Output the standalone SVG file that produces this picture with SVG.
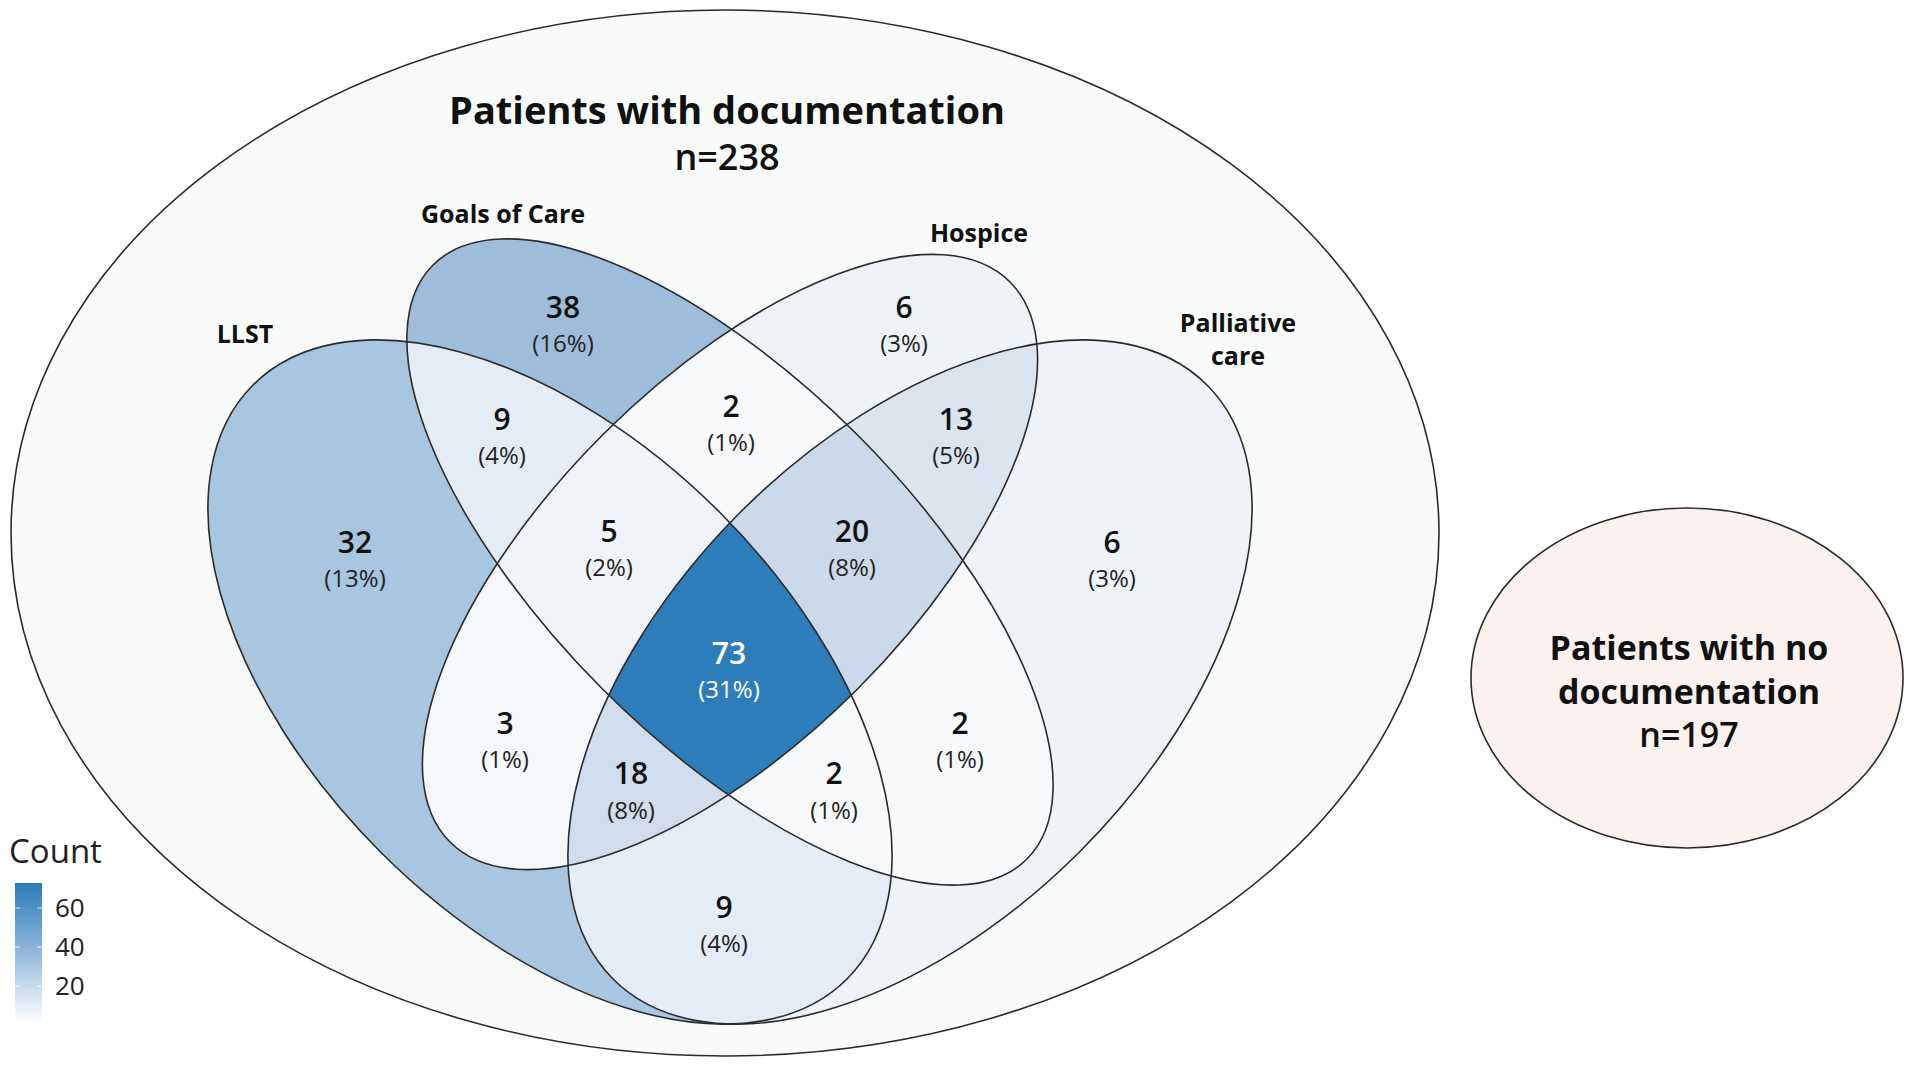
<svg xmlns="http://www.w3.org/2000/svg" width="1920" height="1079" viewBox="0 0 1920 1079">
<style>
.ol{fill:none;stroke:#2b2b2b;stroke-width:1.6}
.setlab{font-family:"Open Sans","Liberation Sans",sans-serif;font-weight:700;font-size:25px;fill:#111;text-anchor:middle}
.cnt{font-family:"Open Sans","Liberation Sans",sans-serif;font-weight:600;font-size:30px;fill:#111;text-anchor:middle}
.pct{font-family:"Open Sans","Liberation Sans",sans-serif;font-weight:400;font-size:24px;fill:#222;text-anchor:middle}
.wt{fill:#ffffff}
.big{font-family:"Open Sans","Liberation Sans",sans-serif;font-weight:700;font-size:38px;fill:#111;text-anchor:middle}
.bign{font-family:"Open Sans","Liberation Sans",sans-serif;font-weight:600;font-size:36px;fill:#111;text-anchor:middle}
.leg{font-family:"Open Sans","Liberation Sans",sans-serif;font-weight:500;fill:#222}
</style>
<defs>
<ellipse id="eA" cx="0" cy="0" rx="420" ry="240" transform="translate(550 682) rotate(45)"/>
<ellipse id="eB" cx="0" cy="0" rx="420" ry="180" transform="translate(730 562) rotate(45)"/>
<ellipse id="eC" cx="0" cy="0" rx="396" ry="180" transform="translate(730 562) rotate(-45)"/>
<ellipse id="eD" cx="0" cy="0" rx="420" ry="240" transform="translate(910 682) rotate(-45)"/>
<clipPath id="cA"><use href="#eA"/></clipPath>
<clipPath id="cB"><use href="#eB"/></clipPath>
<clipPath id="cC"><use href="#eC"/></clipPath>
<clipPath id="cD"><use href="#eD"/></clipPath>
<linearGradient id="legGrad" x1="0" y1="0" x2="0" y2="1">
<stop offset="0" stop-color="#2B7BBA"/>
<stop offset="0.5" stop-color="#93B9DB"/>
<stop offset="1" stop-color="#FFFFFF"/>
</linearGradient>
</defs>

<rect width="1920" height="1079" fill="#ffffff"/>

<g id="documented">
<ellipse cx="725" cy="533" rx="714" ry="523" fill="#F9FBFB" stroke="#2b2b2b" stroke-width="1.6"/>
<text class="big" x="727" y="124">Patients with documentation</text>
<text class="bign" x="727" y="170">n=238</text>
</g>

<g id="no-documentation">
<ellipse cx="1687" cy="678" rx="216" ry="170" fill="#FBF1EF" stroke="#2b2b2b" stroke-width="1.6"/>
<text class="big" x="1689" y="660" style="font-size:34px">Patients with no</text>
<text class="big" x="1689" y="704" style="font-size:34px">documentation</text>
<text class="bign" x="1689" y="747" style="font-size:34px">n=197</text>
</g>

<g id="region-fills">
<use href="#eA" fill="#A9C6E0"/>
<use href="#eB" fill="#9EBDDB"/>
<use href="#eC" fill="#EEF3F7"/>
<use href="#eD" fill="#EEF3F7"/>
<g clip-path="url(#cA)"><use href="#eB" fill="#E4ECF5"/></g>
<g clip-path="url(#cA)"><use href="#eC" fill="#F5F8FA"/></g>
<g clip-path="url(#cA)"><use href="#eD" fill="#E4ECF5"/></g>
<g clip-path="url(#cB)"><use href="#eC" fill="#F7F9FB"/></g>
<g clip-path="url(#cB)"><use href="#eD" fill="#F7F9FB"/></g>
<g clip-path="url(#cC)"><use href="#eD" fill="#DAE5F0"/></g>
<g clip-path="url(#cA)"><g clip-path="url(#cB)"><use href="#eC" fill="#F0F4F8"/></g></g>
<g clip-path="url(#cA)"><g clip-path="url(#cB)"><use href="#eD" fill="#F7F9FB"/></g></g>
<g clip-path="url(#cA)"><g clip-path="url(#cC)"><use href="#eD" fill="#CFDDEC"/></g></g>
<g clip-path="url(#cB)"><g clip-path="url(#cC)"><use href="#eD" fill="#CBDAEA"/></g></g>
<g clip-path="url(#cA)"><g clip-path="url(#cB)"><g clip-path="url(#cC)"><use href="#eD" fill="#2E7DBB"/></g></g></g>
</g>

<g id="set-llst">
<use href="#eA" class="ol"/>
<text class="setlab" x="245" y="343">LLST</text>
</g>
<g id="set-goals-of-care">
<use href="#eB" class="ol"/>
<text class="setlab" x="503" y="223">Goals of Care</text>
</g>
<g id="set-hospice">
<use href="#eC" class="ol"/>
<text class="setlab" x="979" y="242">Hospice</text>
</g>
<g id="set-palliative-care">
<use href="#eD" class="ol"/>
<text class="setlab" x="1238" y="332">Palliative</text>
<text class="setlab" x="1238" y="365">care</text>
</g>

<g id="region-labels">
<text class="cnt" x="563" y="318">38</text><text class="pct" x="563" y="352">(16%)</text>
<text class="cnt" x="904" y="318">6</text><text class="pct" x="904" y="352">(3%)</text>
<text class="cnt" x="502" y="430">9</text><text class="pct" x="502" y="464">(4%)</text>
<text class="cnt" x="731" y="417">2</text><text class="pct" x="731" y="451">(1%)</text>
<text class="cnt" x="956" y="430">13</text><text class="pct" x="956" y="464">(5%)</text>
<text class="cnt" x="355" y="553">32</text><text class="pct" x="355" y="587">(13%)</text>
<text class="cnt" x="609" y="542">5</text><text class="pct" x="609" y="576">(2%)</text>
<text class="cnt" x="852" y="542">20</text><text class="pct" x="852" y="576">(8%)</text>
<text class="cnt" x="1112" y="553">6</text><text class="pct" x="1112" y="587">(3%)</text>
<text class="cnt wt" x="729" y="664">73</text><text class="pct wt" x="729" y="698">(31%)</text>
<text class="cnt" x="505" y="734">3</text><text class="pct" x="505" y="768">(1%)</text>
<text class="cnt" x="960" y="734">2</text><text class="pct" x="960" y="768">(1%)</text>
<text class="cnt" x="631" y="784">18</text><text class="pct" x="631" y="819">(8%)</text>
<text class="cnt" x="834" y="784">2</text><text class="pct" x="834" y="819">(1%)</text>
<text class="cnt" x="724" y="918">9</text><text class="pct" x="724" y="952">(4%)</text>
</g>

<g id="legend">
<text class="leg" x="9" y="863" style="font-size:33px">Count</text>
<rect x="15" y="883" width="27" height="140" fill="url(#legGrad)"/>
<g stroke="#ffffff" stroke-width="1" opacity="0.8">
<line x1="15" y1="908" x2="20" y2="908"/><line x1="37" y1="908" x2="42" y2="908"/>
<line x1="15" y1="947" x2="20" y2="947"/><line x1="37" y1="947" x2="42" y2="947"/>
<line x1="15" y1="986" x2="20" y2="986"/><line x1="37" y1="986" x2="42" y2="986"/>
</g>
<text class="leg" x="55" y="917" style="font-size:26px">60</text>
<text class="leg" x="55" y="956" style="font-size:26px">40</text>
<text class="leg" x="55" y="995" style="font-size:26px">20</text>
</g>
</svg>
